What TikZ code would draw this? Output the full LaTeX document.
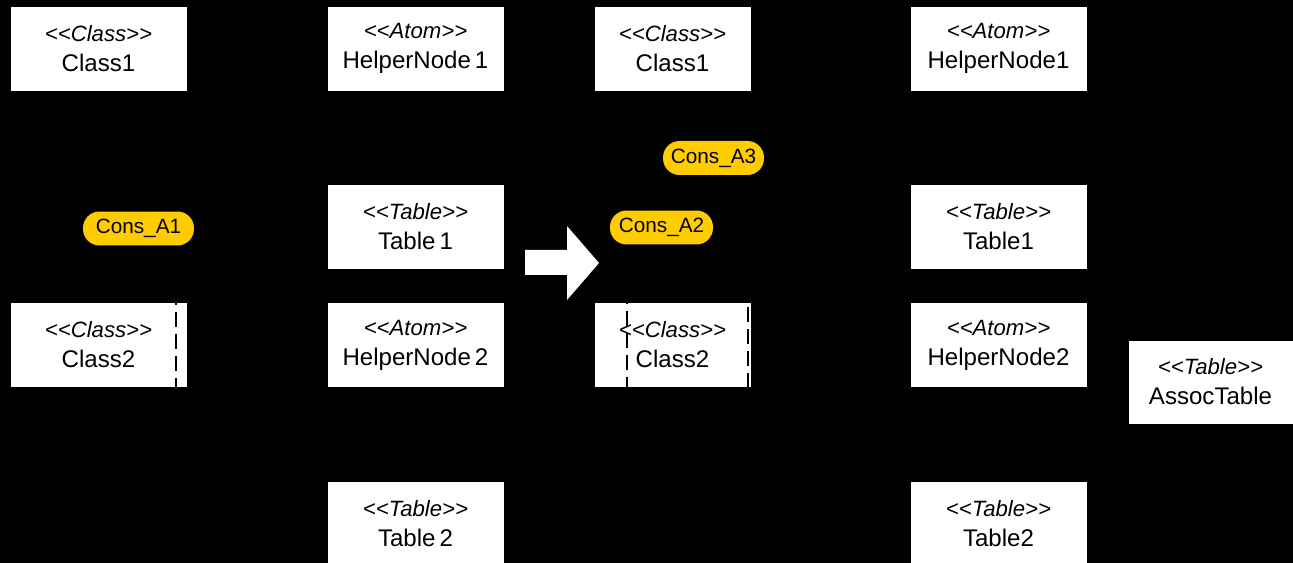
\documentclass[tikz,border=0pt]{standalone}
\usepackage{fontspec}
\setmainfont{Liberation Sans}
\definecolor{consyellow}{HTML}{FFCC00}
\newcommand{\stereo}[2]{\textit{<\kern0pt<#1>\kern0pt>}\\{\fontsize{13.7}{17}\selectfont #2}}

\begin{document}
\begin{tikzpicture}[x=0.02cm, y=-0.02cm,
		every node/.style={align=center, inner sep=0pt},
		box/.style={fill=white, draw=black, line width=0.3pt, minimum width=3.54cm, minimum height=1.7cm, font=\fontsize{12.6}{17}\selectfont},
		cons/.style={fill=consyellow, rounded corners=0.33cm, minimum height=0.68cm, font=\fontsize{11.8}{14}\selectfont},
		cutline/.style={draw=black, line width=1.6pt, dash pattern=on 8.5pt off 4pt}]
		% Background
		\useasboundingbox (0,0) rectangle (1293,563);
		\fill[black] (0,0) rectangle (1293,563);
		
		% Before: left model
		\node[box] (class1L) at (98.5,48.5) {\stereo{Class}{Class1}};
		\node[box] (class2L) at (98.5,345) {\stereo{Class}{Class2}};
		\node[box] (helper1L) at (415.5,48.5) {\stereo{Atom}{HelperNode\,1}};
		\node[box] (table1L) at (415.5,226.5) {\stereo{Table}{Table\,1}};
		\node[box] (helper2L) at (415.5,345) {\stereo{Atom}{HelperNode\,2}};
		\node[box] (table2L) at (415.5,523.5) {\stereo{Table}{Table\,2}};
		\node[cons, minimum width=2.22cm] (consA1) at (138.5,228.5) {Cons\_A1};
		
		% Transformation arrow
		\fill[white] (525,250) -- (567,250) -- (567,226) -- (599,263)
			-- (567,300) -- (567,275) -- (525,275) -- cycle;
		
		% After: right model
		\node[box, minimum width=3.14cm] (class1R) at (672.5,48.5) {\stereo{Class}{Class1}};
		\node[box, minimum width=3.14cm] (class2R) at (672.5,345) {\stereo{Class}{Class2}};
		\node[box] (helper1R) at (998.5,48.5) {\stereo{Atom}{HelperNode1}};
		\node[box] (table1R) at (998.5,226.5) {\stereo{Table}{Table1}};
		\node[box] (helper2R) at (998.5,345) {\stereo{Atom}{HelperNode2}};
		\node[box] (table2R) at (998.5,523.5) {\stereo{Table}{Table2}};
		\node[box, minimum width=3.3cm, minimum height=1.68cm] (assoc) at (1210.5,382) {\stereo{Table}{AssocTable}};
		\node[cons, minimum width=2.06cm] (consA2) at (661.5,227.5) {Cons\_A2};
		\node[cons, minimum width=2.02cm] (consA3) at (713.5,158) {Cons\_A3};
		
		% Constraint ends
		\coordinate (endA1) at (176,387);
		\coordinate (endA2) at (627,387);
		\coordinate (endA3) at (748,387);
		
		% Constraint lines
		\foreach \c/\e in {consA1/endA1, consA2/endA2, consA3/endA3}
		\draw[cutline] (\c.south -| \e) -- (\e);
	\end{tikzpicture}
\end{document}
